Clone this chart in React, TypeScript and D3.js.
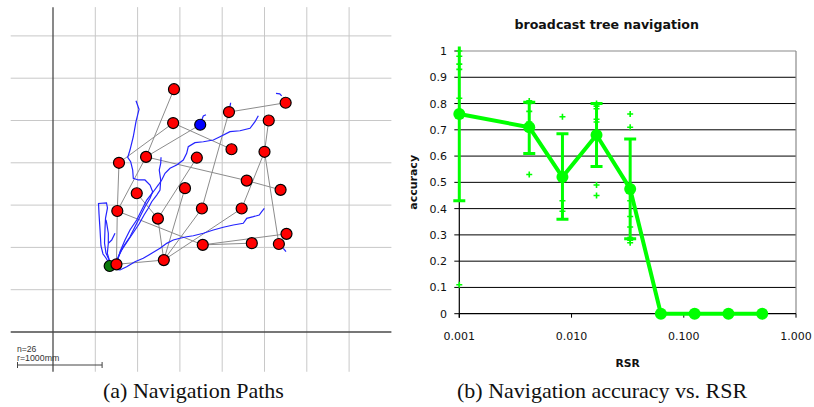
import React from "react";
import * as d3 from "d3";

// ---------- panel (a): navigation paths, positions in mm ----------
const nodeX = [1430, 2750, 2080, 1420, 1740, 2550, 2110, 2500, 780, 1100, 1700, 2290, 2690, 990, 1560, 760, 1240, 1760, 2230, 2760, 1770, 2350, 2670, 1310, 750, 670];
const nodeY = [2870, 2710, 2600, 2470, 2450, 2500, 2160, 2130, 2000, 2070, 2060, 1790, 1680, 1640, 1700, 1430, 1340, 1460, 1460, 1160, 1030, 1050, 1040, 850, 800, 780];
// 0 = plain node, 1 = target (blue), 2 = start (green)
const nodeKind = [0, 0, 0, 0, 1, 0, 0, 0, 0, 0, 0, 0, 0, 0, 0, 0, 0, 0, 0, 0, 0, 0, 0, 0, 0, 2];

const treeEdges = [
  [0, 9], [9, 4], [9, 15], [9, 11], [11, 12], [3, 8], [3, 6], [8, 15], [15, 24],
  [15, 20], [20, 21], [20, 19], [24, 23], [23, 16], [23, 14], [23, 17], [23, 18],
  [16, 13], [16, 10], [17, 2], [2, 1], [18, 7], [7, 5], [7, 22], [24, 25],
];

const walkA = [[981, 2734], [1017, 2632], [981, 2486], [949, 2308], [910, 2151], [883, 2065], [918, 2013], [942, 1915], [949, 1817], [1008, 1797], [1087, 1797], [1147, 1738], [1178, 1658], [1147, 1580], [1087, 1481], [1028, 1363], [969, 1245], [910, 1126], [831, 1008], [772, 890], [753, 812]];
const walkB = [[1277, 2065], [1273, 1994], [1256, 1915], [1273, 1797], [1265, 1678], [1226, 1619], [1167, 1540], [1126, 1462], [1076, 1383], [1017, 1277], [946, 1170], [875, 1064], [804, 957], [756, 851], [733, 780]];
const walkC = [[2427, 2557], [2388, 2486], [2329, 2408], [2210, 2379], [2092, 2368], [1974, 2308], [1895, 2269], [1777, 2249], [1678, 2238], [1599, 2190], [1580, 2112], [1540, 2033], [1462, 1974], [1383, 1935], [1324, 1876], [1285, 1797], [1245, 1738], [1186, 1658], [1108, 1560], [1048, 1442], [989, 1324], [910, 1206], [851, 1087], [792, 949], [760, 831], [772, 772]];
const walkD = [[2498, 1462], [2467, 1422], [2438, 1383], [2368, 1363], [2290, 1344], [2249, 1285], [2131, 1265], [2013, 1238], [1895, 1206], [1777, 1167], [1658, 1138], [1580, 1126], [1501, 1108], [1422, 1087], [1344, 1048], [1265, 989], [1167, 930], [1067, 871], [969, 831], [871, 772], [792, 733], [753, 741]];
const walkE = [[674, 792], [626, 875], [591, 922], [567, 1017], [556, 1206], [544, 1395], [538, 1519], [632, 1525], [644, 1466], [621, 1347], [615, 1229], [609, 1052], [626, 934], [674, 827]];
const walkF = [[626, 1324], [635, 1285], [654, 1167], [654, 1048], [642, 930], [665, 851], [694, 812]];
const walkG = [[733, 1167], [694, 1087], [654, 1048]];
const stubs = [
  [[1755, 2500], [1777, 2553], [1808, 2568]],
  [[2100, 2710], [2092, 2663]],
  [[2636, 2821], [2680, 2815], [2703, 2790]],
  [[2722, 989], [2754, 949]],
  [[2545, 2151], [2565, 2159]],
  [[1820, 1020], [1836, 1017]],
];
const walks = [walkA, walkB, walkC, walkD, walkE, walkF, walkG, ...stubs];

const gridMM = [500, 1000, 1500, 2000, 2500, 3000, 3500];

// ---------- panel (b): accuracy vs RSR ----------
const rsr = [0.001, 0.0042, 0.0083, 0.0167, 0.0333, 0.0625, 0.125, 0.25, 0.5];
const accuracy = [0.76, 0.71, 0.52, 0.68, 0.475, 0, 0, 0, 0];
const errHigh = [1.2, 0.805, 0.685, 0.8, 0.665, null, null, null, null];
const errLow = [0.43, 0.61, 0.36, 0.56, 0.285, null, null, null, null];
const samples = [
  [1.0, 0.98, 0.95, 0.93, 0.82, 0.11],
  [0.81, 0.8, 0.77, 0.73, 0.53],
  [0.75, 0.43, 0.39],
  [0.8, 0.79, 0.78, 0.74, 0.73, 0.49, 0.45],
  [0.76, 0.71, 0.43, 0.37, 0.33, 0.29, 0.28, 0.27],
];
const yTicks = [0, 0.1, 0.2, 0.3, 0.4, 0.5, 0.6, 0.7, 0.8, 0.9, 1];
const yTickLabels = ["0", "0.1", "0.2", "0.3", "0.4", "0.5", "0.6", "0.7", "0.8", "0.9", "1"];
const xTicks = [0.001, 0.01, 0.1, 1];
const xTickLabels = ["0.001", "0.010", "0.100", "1.000"];

const GREEN = "#00ff00";
const SANS = "'DejaVu Sans', Verdana, sans-serif";

function MapPanel() {
  const xS = d3.scaleLinear().domain([-500, 4000]).range([10.7, 391.4]);
  const yS = d3.scaleLinear().domain([-500, 3500]).range([374.3, 35.9]);
  const topMM = 3840;
  const botMM = -470;
  const line = d3.line<number[]>().x((d) => xS(d[0])).y((d) => yS(d[1]));
  const barLen = xS(1000) - xS(0);

  return (
    <g>
      {gridMM.map((g) => (
        <line key={"v" + g} x1={xS(g)} x2={xS(g)} y1={yS(topMM)} y2={yS(botMM)} stroke="#c8c8c8" strokeWidth={1} />
      ))}
      {gridMM.map((g) => (
        <line key={"h" + g} x1={xS(-500)} x2={xS(4000)} y1={yS(g)} y2={yS(g)} stroke="#c8c8c8" strokeWidth={1} />
      ))}
      <line x1={xS(0)} x2={xS(0)} y1={yS(topMM)} y2={yS(botMM)} stroke="#4a4a4a" strokeWidth={1.3} />
      <line x1={xS(-500)} x2={xS(4000)} y1={yS(0)} y2={yS(0)} stroke="#4a4a4a" strokeWidth={1.3} />

      {treeEdges.map(([a, b], i) => (
        <line key={"e" + i} x1={xS(nodeX[a])} y1={yS(nodeY[a])} x2={xS(nodeX[b])} y2={yS(nodeY[b])} stroke="#8c8c8c" strokeWidth={1} />
      ))}

      {walks.map((w, i) => (
        <path key={"w" + i} d={line(w) || ""} fill="none" stroke="#2424ff" strokeWidth={1.2} />
      ))}

      {[25, ...d3.range(25)].map((i) => (
        <circle
          key={"n" + i}
          cx={xS(nodeX[i])}
          cy={yS(nodeY[i])}
          r={5.5}
          fill={nodeKind[i] === 1 ? "#0000ff" : nodeKind[i] === 2 ? "#0b7a0b" : "#ff0000"}
          stroke="#000"
          strokeWidth={1.2}
        />
      ))}

      <text x={17} y={352} fontFamily="'Liberation Sans', Arial, sans-serif" fontSize={8.6} fill="#333">n=26</text>
      <text x={17} y={361} fontFamily="'Liberation Sans', Arial, sans-serif" fontSize={8.8} fill="#333">r=1000mm</text>
      <line x1={17.5} x2={17.5 + barLen} y1={365} y2={365} stroke="#444" strokeWidth={1} />
      <line x1={17.5} x2={17.5} y1={362} y2={368} stroke="#444" strokeWidth={1} />
      <line x1={17.5 + barLen} x2={17.5 + barLen} y1={362} y2={368} stroke="#444" strokeWidth={1} />
    </g>
  );
}

function AccuracyChart() {
  const x = d3.scaleLog().domain([0.001, 1]).range([459.3, 796]);
  const y = d3.scaleLinear().domain([0, 1]).range([313.7, 51]);
  const [x0, x1] = x.range();
  const [yb, yt] = y.range();
  const line = d3.line<number>().x((d, i) => x(rsr[i])).y((d) => y(d));

  return (
    <g>
      <defs>
        <clipPath id="plotClip">
          <rect x={x0 - 20} y={46.5} width={x1 - x0 + 40} height={yb - 46.5 + 20} />
        </clipPath>
      </defs>
      <text x={606.7} y={28.5} textAnchor="middle" fontFamily={SANS} fontWeight="bold" fontSize={12.6} fill="#111">
        broadcast tree navigation
      </text>

      {yTicks.slice(1, -1).map((t) => (
        <line key={"g" + t} x1={x0} x2={x1} y1={y(t)} y2={y(t)} stroke="#000" strokeWidth={1} />
      ))}
      <line x1={x0} x2={x1} y1={yt} y2={yt} stroke="#8a8a8a" strokeWidth={1.2} />
      <line x1={x1} x2={x1} y1={yt} y2={yb} stroke="#8a8a8a" strokeWidth={1.2} />
      <line x1={x0} x2={x0} y1={yt} y2={yb + 4} stroke="#000" strokeWidth={1.2} />
      <line x1={x0} x2={x1} y1={yb} y2={yb} stroke="#000" strokeWidth={1.2} />

      {yTicks.map((t, i) => (
        <g key={"yt" + t}>
          <line x1={x0 - 5} x2={x0} y1={y(t)} y2={y(t)} stroke="#000" strokeWidth={1} />
          <text x={447} y={y(t)} dy="0.36em" textAnchor="end" fontFamily={SANS} fontSize={11} fill="#111">
            {yTickLabels[i]}
          </text>
        </g>
      ))}
      {xTicks.map((t, i) => (
        <g key={"xt" + t}>
          <line x1={x(t)} x2={x(t)} y1={yb} y2={yb + 4} stroke="#000" strokeWidth={1} />
          <text x={x(t)} y={339.5} textAnchor="middle" fontFamily={SANS} fontSize={11} fill="#111">
            {xTickLabels[i]}
          </text>
        </g>
      ))}
      <text x={627.7} y={367} textAnchor="middle" fontFamily={SANS} fontWeight="bold" fontSize={10.8} fill="#111">RSR</text>
      <text transform={`translate(417,${(yt + yb) / 2}) rotate(-90)`} textAnchor="middle" fontFamily={SANS} fontWeight="bold" fontSize={11} fill="#111">
        accuracy
      </text>

      <g clipPath="url(#plotClip)">
        {rsr.map((r, i) =>
          errHigh[i] == null ? null : (
            <g key={"eb" + i}>
              <line x1={x(r)} x2={x(r)} y1={y(errHigh[i] as number)} y2={y(errLow[i] as number)} stroke={GREEN} strokeWidth={3} />
              <line x1={x(r) - 6} x2={x(r) + 6} y1={y(errHigh[i] as number)} y2={y(errHigh[i] as number)} stroke={GREEN} strokeWidth={3} />
              <line x1={x(r) - 6} x2={x(r) + 6} y1={y(errLow[i] as number)} y2={y(errLow[i] as number)} stroke={GREEN} strokeWidth={3} />
            </g>
          )
        )}
      </g>
      {samples.map((s, i) =>
        s.map((v, j) => (
          <path
            key={"s" + i + "-" + j}
            d={`M${x(rsr[i]) - 3},${y(v)}h6M${x(rsr[i])},${y(v) - 3}v6`}
            stroke={GREEN}
            strokeWidth={1.6}
            fill="none"
          />
        ))
      )}
      <path d={line(accuracy) || ""} fill="none" stroke={GREEN} strokeWidth={4} strokeLinejoin="round" />
      {accuracy.map((v, i) => (
        <circle key={"p" + i} cx={x(rsr[i])} cy={y(v)} r={6} fill={GREEN} />
      ))}
    </g>
  );
}

export default function App() {
  return (
    <svg width={814} height={407} style={{ position: "absolute", left: 0, top: 0, background: "#fff" }}>
      <rect width={814} height={407} fill="#fff" />
      <MapPanel />
      <AccuracyChart />
      <text x={103} y={398} fontFamily="'Liberation Serif', 'Times New Roman', serif" fontSize={22} fill="#111">
        (a) Navigation Paths
      </text>
      <text x={457} y={398} fontFamily="'Liberation Serif', 'Times New Roman', serif" fontSize={22} fill="#111">
        (b) Navigation accuracy vs. RSR
      </text>
    </svg>
  );
}
